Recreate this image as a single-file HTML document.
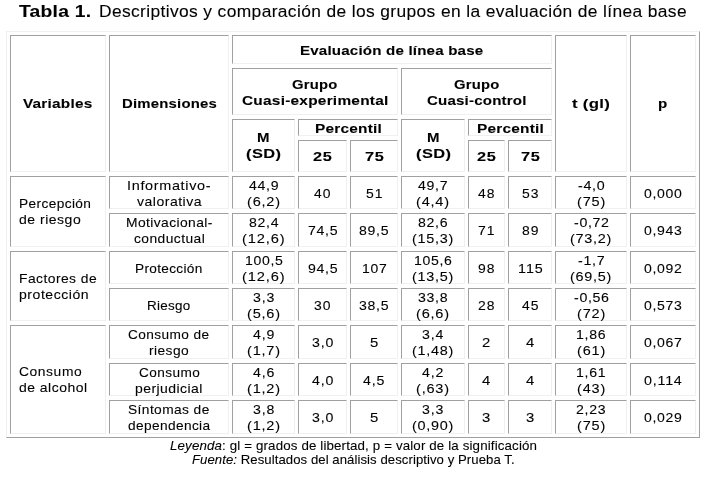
<!DOCTYPE html>
<html><head><meta charset="utf-8"><style>
html,body{margin:0;padding:0;background:#fff;width:707px;height:477px;overflow:hidden;position:relative}
.c{position:absolute;box-sizing:border-box;border:1px solid;border-color:#a0a0a0 #f0f0f0 #f0f0f0 #a0a0a0}
.t{position:absolute;white-space:pre;font-family:"Liberation Sans",sans-serif;line-height:16px;color:#000;transform-origin:0 0;will-change:transform;-webkit-text-stroke:0.1px #000}
.t b{font-weight:bold} .t i{font-style:italic}
</style></head><body>
<div style="position:absolute;left:6px;top:31px;width:694px;height:407px;box-sizing:border-box;border:1px solid;border-color:#f0f0f0 #a0a0a0 #a0a0a0 #f0f0f0"></div>
<div class="c" style="left:10px;top:35px;width:96px;height:137px"></div>
<span class="t" style="left:23.40px;top:95.50px;font-size:13.0px;letter-spacing:0.192px;transform:scaleX(1.1800)"><b>Variables</b></span>
<div class="c" style="left:109px;top:35px;width:120px;height:137px"></div>
<span class="t" style="left:121.59px;top:95.50px;font-size:13.0px;letter-spacing:0.182px;transform:scaleX(1.1460)"><b>Dimensiones</b></span>
<div class="c" style="left:232px;top:35px;width:320px;height:29px"></div>
<span class="t" style="left:300.43px;top:42.50px;font-size:13.0px;letter-spacing:0.164px;transform:scaleX(1.1614)"><b>Evaluación de línea base</b></span>
<div class="c" style="left:232px;top:68px;width:166px;height:47px"></div>
<span class="t" style="left:292.29px;top:76.50px;font-size:13.0px;letter-spacing:0.211px;transform:scaleX(1.1399)"><b>Grupo</b></span>
<span class="t" style="left:241.87px;top:92.50px;font-size:13.0px;letter-spacing:0.196px;transform:scaleX(1.1866)"><b>Cuasi-experimental</b></span>
<div class="c" style="left:401px;top:68px;width:151px;height:47px"></div>
<span class="t" style="left:453.79px;top:76.50px;font-size:13.0px;letter-spacing:0.211px;transform:scaleX(1.1399)"><b>Grupo</b></span>
<span class="t" style="left:426.79px;top:92.50px;font-size:13.0px;letter-spacing:0.169px;transform:scaleX(1.1587)"><b>Cuasi-control</b></span>
<div class="c" style="left:232px;top:119px;width:63px;height:53px"></div>
<span class="t" style="left:257.27px;top:129.50px;font-size:13.0px;letter-spacing:0.000px;transform:scaleX(1.1520)"><b>M</b></span>
<span class="t" style="left:246.00px;top:145.50px;font-size:13.0px;letter-spacing:0.328px;transform:scaleX(1.2636)"><b>(SD)</b></span>
<div class="c" style="left:298px;top:119px;width:100px;height:17px"></div>
<span class="t" style="left:314.57px;top:120.50px;font-size:13.0px;letter-spacing:0.189px;transform:scaleX(1.1848)"><b>Percentil</b></span>
<div class="c" style="left:298px;top:140px;width:49px;height:32px"></div>
<span class="t" style="left:313.08px;top:148.50px;font-size:13.0px;letter-spacing:0.523px;transform:scaleX(1.2576)"><b>25</b></span>
<div class="c" style="left:350px;top:140px;width:48px;height:32px"></div>
<span class="t" style="left:364.58px;top:148.50px;font-size:13.0px;letter-spacing:0.523px;transform:scaleX(1.2576)"><b>75</b></span>
<div class="c" style="left:401px;top:119px;width:64px;height:53px"></div>
<span class="t" style="left:426.77px;top:129.50px;font-size:13.0px;letter-spacing:0.000px;transform:scaleX(1.1520)"><b>M</b></span>
<span class="t" style="left:415.50px;top:145.50px;font-size:13.0px;letter-spacing:0.328px;transform:scaleX(1.2636)"><b>(SD)</b></span>
<div class="c" style="left:468px;top:119px;width:84px;height:17px"></div>
<span class="t" style="left:476.57px;top:120.50px;font-size:13.0px;letter-spacing:0.189px;transform:scaleX(1.1848)"><b>Percentil</b></span>
<div class="c" style="left:468px;top:140px;width:37px;height:32px"></div>
<span class="t" style="left:477.08px;top:148.50px;font-size:13.0px;letter-spacing:0.523px;transform:scaleX(1.2576)"><b>25</b></span>
<div class="c" style="left:508px;top:140px;width:44px;height:32px"></div>
<span class="t" style="left:520.58px;top:148.50px;font-size:13.0px;letter-spacing:0.523px;transform:scaleX(1.2576)"><b>75</b></span>
<div class="c" style="left:555px;top:35px;width:72px;height:137px"></div>
<span class="t" style="left:572.10px;top:95.50px;font-size:13.0px;letter-spacing:0.224px;transform:scaleX(1.2916)"><b>t (gl)</b></span>
<div class="c" style="left:630px;top:35px;width:66px;height:137px"></div>
<span class="t" style="left:658.39px;top:95.50px;font-size:13.0px;letter-spacing:0.000px;transform:scaleX(1.1627)"><b>p</b></span>
<div class="c" style="left:109px;top:176px;width:120px;height:33px"></div>
<span class="t" style="left:127.21px;top:177.50px;font-size:13.0px;letter-spacing:0.613px;transform:scaleX(1.1088)">Informativo-</span>
<span class="t" style="left:136.74px;top:193.50px;font-size:13.0px;letter-spacing:0.456px;transform:scaleX(1.0795)">valorativa</span>
<div class="c" style="left:232px;top:176px;width:63px;height:33px"></div>
<span class="t" style="left:248.73px;top:177.50px;font-size:13.0px;letter-spacing:0.651px;transform:scaleX(1.0835)">44,9</span>
<span class="t" style="left:246.97px;top:193.50px;font-size:13.0px;letter-spacing:0.708px;transform:scaleX(1.1186)">(6,2)</span>
<div class="c" style="left:298px;top:176px;width:49px;height:33px"></div>
<span class="t" style="left:314.23px;top:185.50px;font-size:13.0px;letter-spacing:0.965px;transform:scaleX(1.0715)">40</span>
<div class="c" style="left:350px;top:176px;width:48px;height:33px"></div>
<span class="t" style="left:365.73px;top:185.50px;font-size:13.0px;letter-spacing:0.965px;transform:scaleX(1.0715)">51</span>
<div class="c" style="left:401px;top:176px;width:64px;height:33px"></div>
<span class="t" style="left:418.23px;top:177.50px;font-size:13.0px;letter-spacing:0.651px;transform:scaleX(1.0835)">49,7</span>
<span class="t" style="left:416.47px;top:193.50px;font-size:13.0px;letter-spacing:0.708px;transform:scaleX(1.1186)">(4,4)</span>
<div class="c" style="left:468px;top:176px;width:37px;height:33px"></div>
<span class="t" style="left:478.23px;top:185.50px;font-size:13.0px;letter-spacing:0.965px;transform:scaleX(1.0715)">48</span>
<div class="c" style="left:508px;top:176px;width:44px;height:33px"></div>
<span class="t" style="left:521.73px;top:185.50px;font-size:13.0px;letter-spacing:0.965px;transform:scaleX(1.0715)">53</span>
<div class="c" style="left:555px;top:176px;width:72px;height:33px"></div>
<span class="t" style="left:577.64px;top:177.50px;font-size:13.0px;letter-spacing:0.658px;transform:scaleX(1.0966)">-4,0</span>
<span class="t" style="left:576.84px;top:193.50px;font-size:13.0px;letter-spacing:0.781px;transform:scaleX(1.1128)">(75)</span>
<div class="c" style="left:630px;top:176px;width:66px;height:33px"></div>
<span class="t" style="left:644.10px;top:185.50px;font-size:13.0px;letter-spacing:0.608px;transform:scaleX(1.0809)">0,000</span>
<div class="c" style="left:109px;top:213px;width:120px;height:34px"></div>
<span class="t" style="left:125.84px;top:214.50px;font-size:13.0px;letter-spacing:0.381px;transform:scaleX(1.0635)">Motivacional-</span>
<span class="t" style="left:133.64px;top:230.50px;font-size:13.0px;letter-spacing:0.409px;transform:scaleX(1.0622)">conductual</span>
<div class="c" style="left:232px;top:213px;width:63px;height:34px"></div>
<span class="t" style="left:248.73px;top:214.50px;font-size:13.0px;letter-spacing:0.651px;transform:scaleX(1.0835)">82,4</span>
<span class="t" style="left:242.21px;top:230.50px;font-size:13.0px;letter-spacing:0.765px;transform:scaleX(1.1268)">(12,6)</span>
<div class="c" style="left:298px;top:213px;width:49px;height:34px"></div>
<span class="t" style="left:307.73px;top:222.50px;font-size:13.0px;letter-spacing:0.651px;transform:scaleX(1.0835)">74,5</span>
<div class="c" style="left:350px;top:213px;width:48px;height:34px"></div>
<span class="t" style="left:359.23px;top:222.50px;font-size:13.0px;letter-spacing:0.651px;transform:scaleX(1.0835)">89,5</span>
<div class="c" style="left:401px;top:213px;width:64px;height:34px"></div>
<span class="t" style="left:418.23px;top:214.50px;font-size:13.0px;letter-spacing:0.651px;transform:scaleX(1.0835)">82,6</span>
<span class="t" style="left:412.33px;top:230.50px;font-size:13.0px;letter-spacing:0.665px;transform:scaleX(1.1086)">(15,3)</span>
<div class="c" style="left:468px;top:213px;width:37px;height:34px"></div>
<span class="t" style="left:478.23px;top:222.50px;font-size:13.0px;letter-spacing:0.965px;transform:scaleX(1.0715)">71</span>
<div class="c" style="left:508px;top:213px;width:44px;height:34px"></div>
<span class="t" style="left:521.73px;top:222.50px;font-size:13.0px;letter-spacing:0.965px;transform:scaleX(1.0715)">89</span>
<div class="c" style="left:555px;top:213px;width:72px;height:34px"></div>
<span class="t" style="left:573.50px;top:214.50px;font-size:13.0px;letter-spacing:0.615px;transform:scaleX(1.0905)">-0,72</span>
<span class="t" style="left:570.33px;top:230.50px;font-size:13.0px;letter-spacing:0.665px;transform:scaleX(1.1086)">(73,2)</span>
<div class="c" style="left:630px;top:213px;width:66px;height:34px"></div>
<span class="t" style="left:644.10px;top:222.50px;font-size:13.0px;letter-spacing:0.608px;transform:scaleX(1.0809)">0,943</span>
<div class="c" style="left:109px;top:251px;width:120px;height:33px"></div>
<span class="t" style="left:135.32px;top:260.50px;font-size:13.0px;letter-spacing:0.315px;transform:scaleX(1.0484)">Protección</span>
<div class="c" style="left:232px;top:251px;width:63px;height:33px"></div>
<span class="t" style="left:244.60px;top:252.50px;font-size:13.0px;letter-spacing:0.608px;transform:scaleX(1.0809)">100,5</span>
<span class="t" style="left:242.21px;top:268.50px;font-size:13.0px;letter-spacing:0.765px;transform:scaleX(1.1268)">(12,6)</span>
<div class="c" style="left:298px;top:251px;width:49px;height:33px"></div>
<span class="t" style="left:307.73px;top:260.50px;font-size:13.0px;letter-spacing:0.651px;transform:scaleX(1.0835)">94,5</span>
<div class="c" style="left:350px;top:251px;width:48px;height:33px"></div>
<span class="t" style="left:361.61px;top:260.50px;font-size:13.0px;letter-spacing:0.724px;transform:scaleX(1.0715)">107</span>
<div class="c" style="left:401px;top:251px;width:64px;height:33px"></div>
<span class="t" style="left:414.10px;top:252.50px;font-size:13.0px;letter-spacing:0.608px;transform:scaleX(1.0809)">105,6</span>
<span class="t" style="left:412.33px;top:268.50px;font-size:13.0px;letter-spacing:0.665px;transform:scaleX(1.1086)">(13,5)</span>
<div class="c" style="left:468px;top:251px;width:37px;height:33px"></div>
<span class="t" style="left:478.23px;top:260.50px;font-size:13.0px;letter-spacing:0.965px;transform:scaleX(1.0715)">98</span>
<div class="c" style="left:508px;top:251px;width:44px;height:33px"></div>
<span class="t" style="left:517.60px;top:260.50px;font-size:13.0px;letter-spacing:0.927px;transform:scaleX(1.0981)">115</span>
<div class="c" style="left:555px;top:251px;width:72px;height:33px"></div>
<span class="t" style="left:577.64px;top:252.50px;font-size:13.0px;letter-spacing:0.658px;transform:scaleX(1.0966)">-1,7</span>
<span class="t" style="left:570.33px;top:268.50px;font-size:13.0px;letter-spacing:0.665px;transform:scaleX(1.1086)">(69,5)</span>
<div class="c" style="left:630px;top:251px;width:66px;height:33px"></div>
<span class="t" style="left:644.10px;top:260.50px;font-size:13.0px;letter-spacing:0.608px;transform:scaleX(1.0809)">0,092</span>
<div class="c" style="left:109px;top:288px;width:120px;height:33px"></div>
<span class="t" style="left:147.45px;top:297.50px;font-size:13.0px;letter-spacing:0.256px;transform:scaleX(1.0326)">Riesgo</span>
<div class="c" style="left:232px;top:288px;width:63px;height:33px"></div>
<span class="t" style="left:252.87px;top:289.50px;font-size:13.0px;letter-spacing:0.733px;transform:scaleX(1.0883)">3,3</span>
<span class="t" style="left:246.97px;top:305.50px;font-size:13.0px;letter-spacing:0.708px;transform:scaleX(1.1186)">(5,6)</span>
<div class="c" style="left:298px;top:288px;width:49px;height:33px"></div>
<span class="t" style="left:314.23px;top:297.50px;font-size:13.0px;letter-spacing:0.965px;transform:scaleX(1.0715)">30</span>
<div class="c" style="left:350px;top:288px;width:48px;height:33px"></div>
<span class="t" style="left:359.23px;top:297.50px;font-size:13.0px;letter-spacing:0.651px;transform:scaleX(1.0835)">38,5</span>
<div class="c" style="left:401px;top:288px;width:64px;height:33px"></div>
<span class="t" style="left:418.23px;top:289.50px;font-size:13.0px;letter-spacing:0.651px;transform:scaleX(1.0835)">33,8</span>
<span class="t" style="left:416.47px;top:305.50px;font-size:13.0px;letter-spacing:0.708px;transform:scaleX(1.1186)">(6,6)</span>
<div class="c" style="left:468px;top:288px;width:37px;height:33px"></div>
<span class="t" style="left:478.23px;top:297.50px;font-size:13.0px;letter-spacing:0.965px;transform:scaleX(1.0715)">28</span>
<div class="c" style="left:508px;top:288px;width:44px;height:33px"></div>
<span class="t" style="left:521.73px;top:297.50px;font-size:13.0px;letter-spacing:0.965px;transform:scaleX(1.0715)">45</span>
<div class="c" style="left:555px;top:288px;width:72px;height:33px"></div>
<span class="t" style="left:573.50px;top:289.50px;font-size:13.0px;letter-spacing:0.615px;transform:scaleX(1.0905)">-0,56</span>
<span class="t" style="left:576.84px;top:305.50px;font-size:13.0px;letter-spacing:0.781px;transform:scaleX(1.1128)">(72)</span>
<div class="c" style="left:630px;top:288px;width:66px;height:33px"></div>
<span class="t" style="left:644.10px;top:297.50px;font-size:13.0px;letter-spacing:0.608px;transform:scaleX(1.0809)">0,573</span>
<div class="c" style="left:109px;top:325px;width:120px;height:34px"></div>
<span class="t" style="left:128.43px;top:326.50px;font-size:13.0px;letter-spacing:0.393px;transform:scaleX(1.0504)">Consumo de</span>
<span class="t" style="left:149.20px;top:342.50px;font-size:13.0px;letter-spacing:0.398px;transform:scaleX(1.0595)">riesgo</span>
<div class="c" style="left:232px;top:325px;width:63px;height:34px"></div>
<span class="t" style="left:252.87px;top:326.50px;font-size:13.0px;letter-spacing:0.733px;transform:scaleX(1.0883)">4,9</span>
<span class="t" style="left:246.97px;top:342.50px;font-size:13.0px;letter-spacing:0.708px;transform:scaleX(1.1186)">(1,7)</span>
<div class="c" style="left:298px;top:325px;width:49px;height:34px"></div>
<span class="t" style="left:311.87px;top:334.50px;font-size:13.0px;letter-spacing:0.733px;transform:scaleX(1.0883)">3,0</span>
<div class="c" style="left:350px;top:325px;width:48px;height:34px"></div>
<span class="t" style="left:369.88px;top:334.50px;font-size:13.0px;letter-spacing:0.000px;transform:scaleX(1.1431)">5</span>
<div class="c" style="left:401px;top:325px;width:64px;height:34px"></div>
<span class="t" style="left:422.37px;top:326.50px;font-size:13.0px;letter-spacing:0.733px;transform:scaleX(1.0883)">3,4</span>
<span class="t" style="left:412.33px;top:342.50px;font-size:13.0px;letter-spacing:0.665px;transform:scaleX(1.1086)">(1,48)</span>
<div class="c" style="left:468px;top:325px;width:37px;height:34px"></div>
<span class="t" style="left:482.38px;top:334.50px;font-size:13.0px;letter-spacing:0.000px;transform:scaleX(1.1431)">2</span>
<div class="c" style="left:508px;top:325px;width:44px;height:34px"></div>
<span class="t" style="left:525.88px;top:334.50px;font-size:13.0px;letter-spacing:0.000px;transform:scaleX(1.1431)">4</span>
<div class="c" style="left:555px;top:325px;width:72px;height:34px"></div>
<span class="t" style="left:576.23px;top:326.50px;font-size:13.0px;letter-spacing:0.651px;transform:scaleX(1.0835)">1,86</span>
<span class="t" style="left:576.84px;top:342.50px;font-size:13.0px;letter-spacing:0.781px;transform:scaleX(1.1128)">(61)</span>
<div class="c" style="left:630px;top:325px;width:66px;height:34px"></div>
<span class="t" style="left:644.10px;top:334.50px;font-size:13.0px;letter-spacing:0.608px;transform:scaleX(1.0809)">0,067</span>
<div class="c" style="left:109px;top:363px;width:120px;height:33px"></div>
<span class="t" style="left:138.64px;top:364.50px;font-size:13.0px;letter-spacing:0.406px;transform:scaleX(1.0457)">Consumo</span>
<span class="t" style="left:135.36px;top:380.50px;font-size:13.0px;letter-spacing:0.407px;transform:scaleX(1.0748)">perjudicial</span>
<div class="c" style="left:232px;top:363px;width:63px;height:33px"></div>
<span class="t" style="left:252.87px;top:364.50px;font-size:13.0px;letter-spacing:0.733px;transform:scaleX(1.0883)">4,6</span>
<span class="t" style="left:246.97px;top:380.50px;font-size:13.0px;letter-spacing:0.708px;transform:scaleX(1.1186)">(1,2)</span>
<div class="c" style="left:298px;top:363px;width:49px;height:33px"></div>
<span class="t" style="left:311.87px;top:372.50px;font-size:13.0px;letter-spacing:0.733px;transform:scaleX(1.0883)">4,0</span>
<div class="c" style="left:350px;top:363px;width:48px;height:33px"></div>
<span class="t" style="left:363.37px;top:372.50px;font-size:13.0px;letter-spacing:0.733px;transform:scaleX(1.0883)">4,5</span>
<div class="c" style="left:401px;top:363px;width:64px;height:33px"></div>
<span class="t" style="left:422.37px;top:364.50px;font-size:13.0px;letter-spacing:0.733px;transform:scaleX(1.0883)">4,2</span>
<span class="t" style="left:416.47px;top:380.50px;font-size:13.0px;letter-spacing:0.708px;transform:scaleX(1.1186)">(,63)</span>
<div class="c" style="left:468px;top:363px;width:37px;height:33px"></div>
<span class="t" style="left:482.38px;top:372.50px;font-size:13.0px;letter-spacing:0.000px;transform:scaleX(1.1431)">4</span>
<div class="c" style="left:508px;top:363px;width:44px;height:33px"></div>
<span class="t" style="left:525.88px;top:372.50px;font-size:13.0px;letter-spacing:0.000px;transform:scaleX(1.1431)">4</span>
<div class="c" style="left:555px;top:363px;width:72px;height:33px"></div>
<span class="t" style="left:576.23px;top:364.50px;font-size:13.0px;letter-spacing:0.651px;transform:scaleX(1.0835)">1,61</span>
<span class="t" style="left:576.84px;top:380.50px;font-size:13.0px;letter-spacing:0.781px;transform:scaleX(1.1128)">(43)</span>
<div class="c" style="left:630px;top:363px;width:66px;height:33px"></div>
<span class="t" style="left:644.11px;top:372.50px;font-size:13.0px;letter-spacing:0.708px;transform:scaleX(1.0986)">0,114</span>
<div class="c" style="left:109px;top:400px;width:120px;height:34px"></div>
<span class="t" style="left:128.33px;top:401.50px;font-size:13.0px;letter-spacing:0.394px;transform:scaleX(1.0571)">Síntomas de</span>
<span class="t" style="left:127.92px;top:417.50px;font-size:13.0px;letter-spacing:0.365px;transform:scaleX(1.0515)">dependencia</span>
<div class="c" style="left:232px;top:400px;width:63px;height:34px"></div>
<span class="t" style="left:252.87px;top:401.50px;font-size:13.0px;letter-spacing:0.733px;transform:scaleX(1.0883)">3,8</span>
<span class="t" style="left:246.97px;top:417.50px;font-size:13.0px;letter-spacing:0.708px;transform:scaleX(1.1186)">(1,2)</span>
<div class="c" style="left:298px;top:400px;width:49px;height:34px"></div>
<span class="t" style="left:311.87px;top:409.50px;font-size:13.0px;letter-spacing:0.733px;transform:scaleX(1.0883)">3,0</span>
<div class="c" style="left:350px;top:400px;width:48px;height:34px"></div>
<span class="t" style="left:369.88px;top:409.50px;font-size:13.0px;letter-spacing:0.000px;transform:scaleX(1.1431)">5</span>
<div class="c" style="left:401px;top:400px;width:64px;height:34px"></div>
<span class="t" style="left:422.37px;top:401.50px;font-size:13.0px;letter-spacing:0.733px;transform:scaleX(1.0883)">3,3</span>
<span class="t" style="left:412.33px;top:417.50px;font-size:13.0px;letter-spacing:0.665px;transform:scaleX(1.1086)">(0,90)</span>
<div class="c" style="left:468px;top:400px;width:37px;height:34px"></div>
<span class="t" style="left:482.38px;top:409.50px;font-size:13.0px;letter-spacing:0.000px;transform:scaleX(1.1431)">3</span>
<div class="c" style="left:508px;top:400px;width:44px;height:34px"></div>
<span class="t" style="left:525.88px;top:409.50px;font-size:13.0px;letter-spacing:0.000px;transform:scaleX(1.1431)">3</span>
<div class="c" style="left:555px;top:400px;width:72px;height:34px"></div>
<span class="t" style="left:576.23px;top:401.50px;font-size:13.0px;letter-spacing:0.651px;transform:scaleX(1.0835)">2,23</span>
<span class="t" style="left:576.84px;top:417.50px;font-size:13.0px;letter-spacing:0.781px;transform:scaleX(1.1128)">(75)</span>
<div class="c" style="left:630px;top:400px;width:66px;height:34px"></div>
<span class="t" style="left:644.10px;top:409.50px;font-size:13.0px;letter-spacing:0.608px;transform:scaleX(1.0809)">0,029</span>
<div class="c" style="left:10px;top:176px;width:96px;height:71px"></div>
<span class="t" style="left:19.00px;top:195.50px;font-size:13.0px;letter-spacing:0.362px;transform:scaleX(1.0528)">Percepción</span>
<span class="t" style="left:19.00px;top:211.50px;font-size:13.0px;letter-spacing:0.476px;transform:scaleX(1.0767)">de riesgo</span>
<div class="c" style="left:10px;top:251px;width:96px;height:70px"></div>
<span class="t" style="left:19.00px;top:270.50px;font-size:13.0px;letter-spacing:0.421px;transform:scaleX(1.0653)">Factores de</span>
<span class="t" style="left:19.00px;top:286.50px;font-size:13.0px;letter-spacing:0.494px;transform:scaleX(1.0800)">protección</span>
<div class="c" style="left:10px;top:325px;width:96px;height:109px"></div>
<span class="t" style="left:19.00px;top:363.50px;font-size:13.0px;letter-spacing:0.553px;transform:scaleX(1.0634)">Consumo</span>
<span class="t" style="left:19.00px;top:379.50px;font-size:13.0px;letter-spacing:0.451px;transform:scaleX(1.0735)">de alcohol</span>
<span class="t" style="left:19.40px;top:4.25px;font-size:16.6px;letter-spacing:0.214px;transform:scaleX(1.1629)"><b>Tabla 1.</b></span>
<span class="t" style="left:99.00px;top:4.25px;font-size:16.6px;letter-spacing:0.352px;transform:scaleX(1.0482)">Descriptivos y comparación de los grupos en la evaluación de línea base</span>
<span class="t" style="left:170.20px;top:437.50px;font-size:13.0px;letter-spacing:0.135px;transform:scaleX(1.0245)"><i>Leyenda</i>: gl = grados de libertad, p = valor de la significación</span>
<span class="t" style="left:191.70px;top:451.50px;font-size:13.0px;letter-spacing:0.064px;transform:scaleX(1.0112)"><i>Fuente:</i> Resultados del análisis descriptivo y Prueba T.</span>
</body></html>
